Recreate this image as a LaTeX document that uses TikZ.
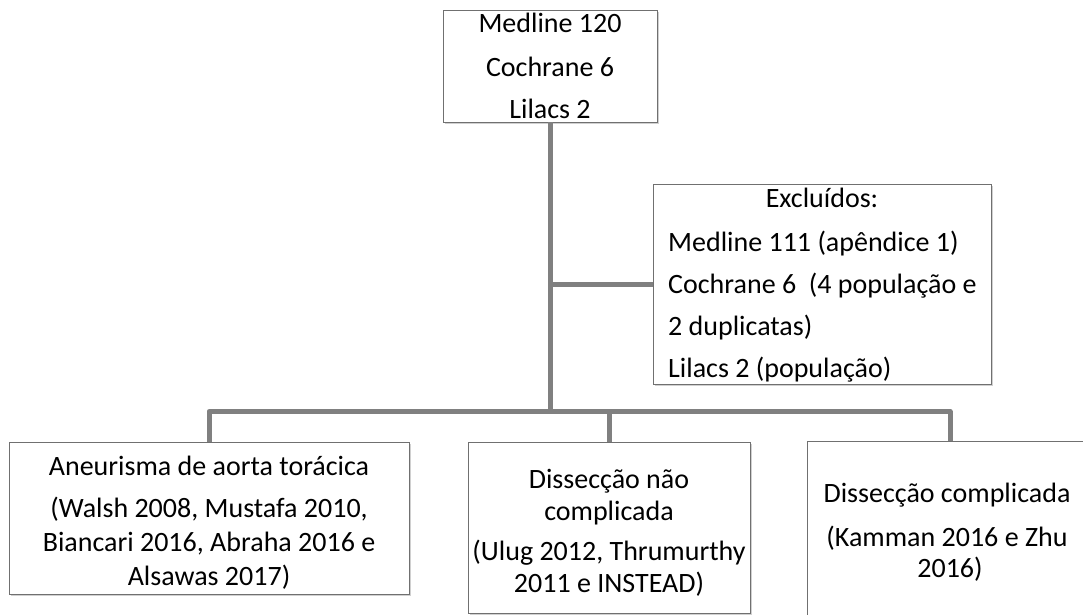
\documentclass[tikz,border=0pt]{standalone}
\usepackage{fontspec}
\setmainfont{Carlito}
\usetikzlibrary{shadows}
\definecolor{connc}{RGB}{128,128,128}
\definecolor{edgec}{RGB}{112,112,112}
\begin{document}
\begin{tikzpicture}[x=1pt,y=-1pt,
  box/.style={draw=edgec, line width=0.9pt, fill=white, inner sep=0pt,
    drop shadow={shadow xshift=1.5pt, shadow yshift=-2pt, opacity=0.3, fill=black!60}},
  conn/.style={draw=connc, line width=5pt, line join=round},
  txt/.style={font=\fontsize{28}{34}\selectfont, inner sep=0pt, anchor=base},
  txtl/.style={txt, anchor=base west}]
\clip (0,0) rectangle (1083,614);
\fill[white] (0,0) rectangle (1083,614);
% boxes
\node[box, minimum width=214pt, minimum height=112pt] (top) at (550,66) {};
\node[box, minimum width=338pt, minimum height=200pt] (excl) at (822,284) {};
\node[box, minimum width=400pt, minimum height=152pt] (b1) at (209,518) {};
\node[box, minimum width=282pt, minimum height=171pt] (b2) at (609,527.5) {};
\node[box, minimum width=286pt, minimum height=200pt] (b3) at (950,541) {};
% connectors
\path (b1.north) ++(0,-30) coordinate (busL);
\draw[conn] (b1.north) -- (busL) -| (b3.north);
\draw[conn] (top.south) -- (top.south |- busL);
\draw[conn] (b2.north) -- (b2.north |- busL);
\draw[conn] (top.south |- excl.west) -- (excl.west);
% top text
\node[txt] (ta) at (550,32) {Medline 120};
\node[txt] (tb) at (550,76) {Cochrane 6};
\node[txt] (tc) at (550,118) {Lilacs 2};
% excluded text
\begin{scope}
\clip (excl.south west) rectangle (excl.north east);
\node[txt] (ea) at (822,207) {Excluídos:};
\node[txtl] (eb) at (668,251) {Medline 111 (apêndice 1)};
\node[txtl] (ec) at (668,293) {Cochrane 6\ \ (4 população e};
\node[txtl] (ed) at (668,335) {2 duplicatas)};
\node[txtl] (ee) at (668,377) {Lilacs 2 (população)};
\end{scope}
% box 1 text
\node[txt] (aa) at (209,475) {Aneurisma de aorta torácica};
\node[txt] (ab) at (209,517) {(Walsh 2008, Mustafa 2010,};
\node[txt] (ac) at (209,551) {Biancari 2016, Abraha 2016 e};
\node[txt] (ad) at (209,585) {Alsawas 2017)};
% box 2 text
\node[txt] (ba) at (609,488) {Dissecção não};
\node[txt] (bb) at (609,520) {complicada};
\node[txt] (bc) at (609,560) {(Ulug 2012, Thrumurthy};
\node[txt] (bd) at (609,592) {2011 e INSTEAD)};
% box 3 text
\node[txt] (ca) at (947,502) {Dissecção complicada};
\node[txt] (cb) at (947,546) {(Kamman 2016 e Zhu};
\node[txt] (cc) at (950,577) {2016)};
\end{tikzpicture}
\end{document}
